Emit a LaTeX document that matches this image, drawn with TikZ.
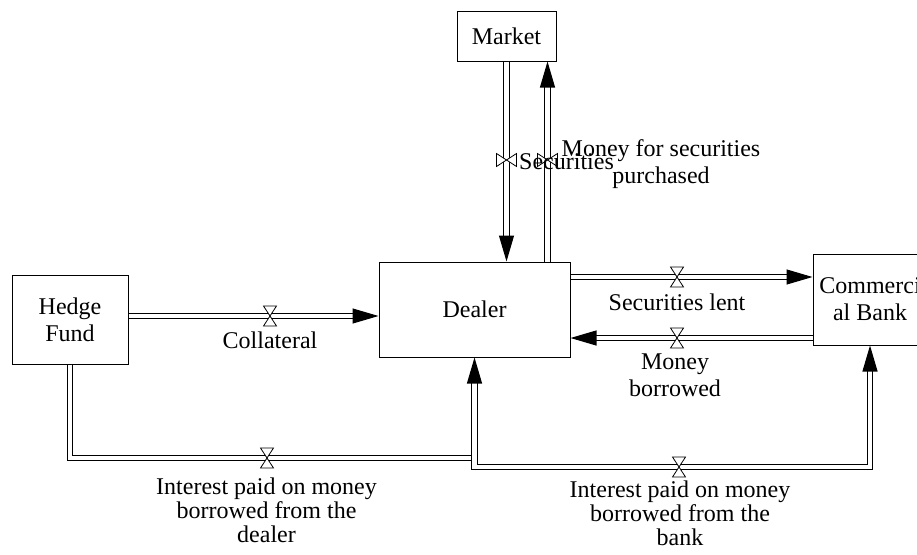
\documentclass[tikz,border=0pt]{standalone}
\usepackage{fontspec}
\setmainfont{Liberation Serif}
\usetikzlibrary{arrows.meta}
\tikzset{
  box/.style={draw, line width=1pt, inner sep=0pt, align=center, font=\fontsize{24}{27}\selectfont},
  flow/.style={double, double distance=4.5pt, line width=1.1pt, -{Triangle[length=26pt,width=15pt]}},
  flowplain/.style={double, double distance=4.5pt, line width=1.1pt},
  lbl/.style={inner sep=0pt, align=center, font=\fontsize{24}{27}\selectfont},
  lbltight/.style={inner sep=0pt, align=center, font=\fontsize{24}{24}\selectfont},
  valve/.style={draw, fill=white, line width=0.8pt},
  valveh/.pic={\draw[valve] (-6.5,-10) -- (6.5,-10) -- (-6.5,10) -- (6.5,10) -- cycle;},
  valvev/.pic={\draw[valve] (-10,-6.5) -- (-10,6.5) -- (10,-6.5) -- (10,6.5) -- cycle;}
}
\begin{document}
\begin{tikzpicture}[x=1pt, y=-1pt]
\useasboundingbox (0,0) rectangle (917,554);
\clip (0,0) rectangle (917,554);

% boxes
\node[box, minimum width=99pt, minimum height=50pt] (market) at (506.5,36) {Market};
\node[box, minimum width=191pt, minimum height=95pt] (dealer) at (474.5,309.5) {Dealer};
\node[box, minimum width=116pt, minimum height=89pt] (hedge) at (70,319.5) {Hedge\\Fund};
\node[box, minimum width=114pt, minimum height=91pt] (bank) at (870,299.5) {Commerci\\al Bank};

% helper coordinates
\coordinate (mx) at (547.5,0);
\coordinate (cy) at (0,316);
\coordinate (sly) at (0,277);
\coordinate (mby) at (0,338);
\coordinate (hy) at (0,458);
\coordinate (by) at (0,467);

% flows
\draw[flow] (market.south) -- (market.south |- dealer.north);
\draw[flow] (mx |- dealer.north) -- (mx |- market.south);
\draw[flow] (hedge.east |- cy) -- (dealer.west |- cy);
\draw[flow] (dealer.east |- sly) -- (bank.west |- sly);
\draw[flow] (bank.west |- mby) -- (dealer.east |- mby);
\draw[flow] (hedge.south) |- (dealer.south |- hy) -- (dealer.south);
\draw[flow, shorten <=26pt] (dealer.south) |- (bank.south |- by) -- (bank.south);

% valves
\pic at (506.5,160) {valvev};
\pic at (547.5,160) {valvev};
\pic at (270,316) {valveh};
\pic at (677,277) {valveh};
\pic at (677,338) {valveh};
\pic at (267,458) {valveh};
\pic at (679,467) {valveh};

% labels
\node[lbl, anchor=base] (lcol) at (270,348) {Collateral};
\node[lbl, anchor=base west] (lsec) at (519,169) {Securities};
\node[lbl, anchor=north] (lmon) at (661,139) {Money for securities\\purchased};
\node[lbl, anchor=base] (lsl) at (677,310) {Securities lent};
\node[lbl, anchor=north] (lmb) at (675,354) {Money\\borrowed};
\node[lbltight, anchor=north] (lid) at (266.5,478) {Interest paid on money\\borrowed from the\\dealer};
\node[lbltight, anchor=north] (lib) at (680,481) {Interest paid on money\\borrowed from the\\bank};
\end{tikzpicture}
\end{document}
